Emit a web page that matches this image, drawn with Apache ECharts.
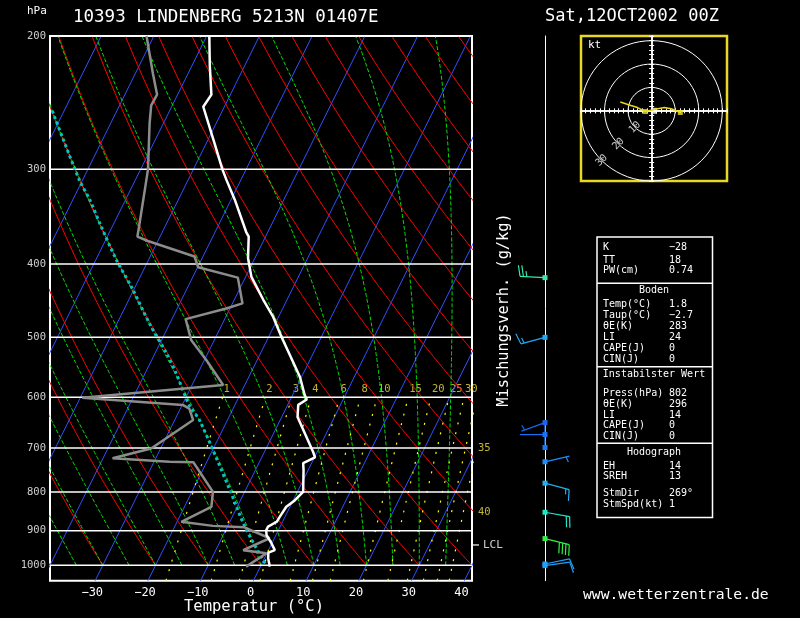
<!DOCTYPE html>
<html>
<head>
<meta charset="utf-8">
<title>Skew-T 10393 Lindenberg</title>
<script src="https://cdn.jsdelivr.net/npm/echarts/dist/echarts.min.js"></script>
<style>
html, body { margin: 0; padding: 0; background: #000; }
#main { width: 800px; height: 618px; }
</style>
</head>
<body>
<div id="main"></div>
<script>
// Skew-T log-P, Lindenberg 12.10.2002 00Z

var FONT = '"DejaVu Sans Mono", monospace';
var P_TOP = 200, P_BOT = 1047.9;
var SKEW = 30.88;          // degC of shift per ln-unit of pressure
var X_MIN = -40, X_MAX = 40;

// grid of the diagram
var isobars = [1000, 900, 800, 700, 600, 500, 400, 300, 200];
var isotherms = [-90, -80, -70, -60, -50, -40, -30, -20, -10, 0, 10, 20, 30, 40];
var dryAdiabats = [-40, -30, -20, -10, 0, 10, 20, 30, 40, 50, 60, 70, 80, 90, 100, 110, 120, 130, 140];
var moistAdiabats = [-35, -30, -25, -20, -15, -10, -5, 0, 5, 10, 15, 20, 25, 30, 35];
var mixRatios = [1, 2, 3, 4, 6, 8, 10, 15, 20, 25, 30, 35, 40];
var mixSideRatios = [35, 40];      // labelled on the right edge
var mixSideP = [700, 850];

// sounding
var tempP = [1004, 979, 962, 955, 935, 912, 899, 889, 876, 863, 837, 821, 800, 748, 733, 730, 720, 708,
             637, 614, 604, 596, 564, 539, 499, 470, 446, 416, 393, 368, 363, 329, 310, 300, 274, 248, 239, 219, 200];
var tempT = [1.8, 0.7, 0.2, 1.2, -0.1, -1.8, -2.3, -2.3, -1.1, -1.0, -0.7, 0.3, 1.1, -0.9, -1.6, -1.4, 0.1, -0.8,
             -7.0, -8.0, -6.9, -7.7, -10.3, -13.0, -17.6, -21.0, -24.5, -28.9, -31.3, -33.2, -34.1, -39.3, -42.7, -44.5, -49.0, -54.0, -53.6, -56.6, -59.5];
var dewP = [1004, 964, 955, 921, 891, 887, 876, 837, 800, 731, 730, 722, 701, 643, 621, 614, 601, 578,
            536, 504, 473, 458, 451, 417, 404, 391, 373, 368, 354, 310, 300, 261, 247, 239, 224, 200];
var dewT = [-2.7, -0.1, -4.8, -0.9, -6.7, -12.8, -19.2, -14.9, -16.0, -22.5, -27.1, -38.2, -31.8, -26.5, -28.3, -29.9, -49.6, -24.1,
            -29.6, -34.4, -37.4, -30.7, -28.1, -31.4, -39.9, -41.6, -51.9, -54.3, -55.1, -57.9, -58.6, -62.6, -64.0, -63.9, -66.7, -71.4];
var parcelP = [994, 984, 889, 795, 643, 617, 558, 525, 479, 433, 395, 357, 329, 310, 249];
var parcelT = [0.6, -0.1, -6.7, -13.0, -25.3, -28.4, -34.1, -37.8, -43.9, -50.1, -56.1, -62.1, -66.8, -70.6, -82.7];
var lclP = 940;

// winds
var windP   = [1001, 996, 922, 851, 779, 730, 699, 672, 648, 500, 417];
var windDir = [82, 78, 104, 100, 105, 77, 360, 270, 250, 255, 273];
var windSpd = [10, 10, 40, 20, 15, 5, 2, 2, 5, 15, 25];
var barbColors = ['#20a0f8', '#20a0f8', '#30f040', '#20e6c8', '#20b0f0', '#1e8cf8',
                  '#1a78f8', '#1a70f8', '#1a64f0', '#20a8f8', '#38e6a8'];

// hodograph (kt)
var hodoRings = [10, 20, 30];
var hodoU = [-13.3, -8.8, -6.0, -2.7, 2.6, 5.4, 8.3, 12.2];
var hodoV = [3.8, 2.3, 1.4, -0.3, 0.9, 1.4, 0.9, -0.7];
var hodoMarks = [3, 7];
var stormDir = 269, stormSpd = 1;

// table
var tableTop = [['K', '\u221228'], ['TT', '18'], ['PW(cm)', '0.74']];
var tableSfc = [['Temp(\u00b0C)', '1.8'], ['Taup(\u00b0C)', '\u22122.7'], ['\u03b8E(K)', '283'], ['LI', '24'], ['CAPE(J)', '0'], ['CIN(J)', '0']];
var tableUns = [['Press(hPa)', '802'], ['\u03b8E(K)', '296'], ['LI', '14'], ['CAPE(J)', '0'], ['CIN(J)', '0']];
var tableHodo = [['EH', '14'], ['SREH', '13'], ['StmDir', '269\u00b0'], ['StmSpd(kt)', '1']];

function skewX(t, p) { return t + SKEW * Math.log(1000 / p); }

function tempFromMix(w, p) {
  var e = w * p / (622 + w);
  var l = Math.log(e / 6.112);
  return 243.5 * l / (17.67 - l);
}

function moistSlope(tK, p) {
  var tc = tK - 273.15;
  var es = 6.112 * Math.exp(17.67 * tc / (tc + 243.5));
  var rs = 0.622 * es / (p - es);
  return (287.04 * tK + 2.501e6 * rs) / (1005.7 + 2.501e6 * 2.501e6 * rs * 0.622 / (287.04 * tK * tK)) / p;
}

function moistLine(tw) {
  var tK = tw + 273.15, pts = [], dp = -5;
  for (var p = 1000; p >= 200; p += dp) {
    pts.push([skewX(tK - 273.15, p), p]);
    var k1 = moistSlope(tK, p);
    var k2 = moistSlope(tK + k1 * dp / 2, p + dp / 2);
    var k3 = moistSlope(tK + k2 * dp / 2, p + dp / 2);
    var k4 = moistSlope(tK + k3 * dp, p + dp);
    tK += dp * (k1 + 2 * k2 + 2 * k3 + k4) / 6;
  }
  return pts;
}

function zip(ps, ts) {
  return ps.map(function (p, i) { return [skewX(ts[i], p), p]; });
}

var series = [];

function bgLine(points, color, width, type) {
  series.push({
    type: 'line', xAxisIndex: 0, yAxisIndex: 0, data: points,
    symbol: 'none', silent: true, animation: false,
    lineStyle: { color: color, width: width, type: type }
  });
}

isotherms.forEach(function (t) {
  bgLine([[skewX(t, P_BOT), P_BOT], [skewX(t, P_TOP), P_TOP]], '#3050ff', 1, 'solid');
});

dryAdiabats.forEach(function (th) {
  var pts = [];
  for (var p = 1000; p >= 200; p -= 10) {
    var t = (th + 273.15) * Math.pow(p / 1000, 0.2857) - 273.15;
    pts.push([skewX(t, p), p]);
  }
  bgLine(pts, '#ff0000', 1, 'solid');
});

moistAdiabats.forEach(function (tw) {
  bgLine(moistLine(tw), '#00e000', 1, [4, 2]);
});

mixRatios.forEach(function (w) {
  var pts = [[skewX(tempFromMix(w, P_BOT), P_BOT), P_BOT]];
  for (var p = 1040; p >= 600; p -= 20) pts.push([skewX(tempFromMix(w, p), p), p]);
  bgLine(pts, '#ffff00', 1.2, [2, 8]);
});

// labels of the mixing ratio lines
var mixTopLabels = mixRatios.filter(function (w) { return mixSideRatios.indexOf(w) < 0; })
  .map(function (w) { return [skewX(tempFromMix(w, 600), 600), 600, w]; });
var mixSideLabels = mixSideRatios.map(function (w, i) { return [X_MAX, mixSideP[i], w]; });

series.push({
  type: 'scatter', xAxisIndex: 0, yAxisIndex: 0, data: mixTopLabels, symbolSize: 0, silent: true, clip: false,
  label: { show: true, position: [1, -14], color: '#f0e040', fontFamily: FONT, fontSize: 10.5,
           formatter: function (d) { return d.value[2]; } }
});
series.push({
  type: 'scatter', xAxisIndex: 0, yAxisIndex: 0, data: mixSideLabels, symbolSize: 0, silent: true, clip: false,
  label: { show: true, position: 'right', distance: 6, color: '#f0e040', fontFamily: FONT, fontSize: 10.5,
           formatter: function (d) { return d.value[2]; } }
});

// isobars
isobars.forEach(function (p) {
  bgLine([[X_MIN, p], [X_MAX, p]], '#ffffff', 1.5, 'solid');
});
series.push({
  type: 'scatter', xAxisIndex: 0, yAxisIndex: 0, symbolSize: 0, silent: true, clip: false,
  data: isobars.map(function (p) { return [X_MIN, p]; }),
  label: { show: true, position: 'left', distance: 4, color: '#fff', fontFamily: FONT, fontSize: 10.5,
           formatter: function (d) { return d.value[1]; } }
});

// parcel, dew point, temperature
series.push({
  type: 'line', xAxisIndex: 0, yAxisIndex: 0, data: zip(parcelP, parcelT), symbol: 'none', smooth: 0.3,
  lineStyle: { color: '#00c4c4', width: 3, type: [3, 3] }
});
series.push({
  type: 'line', xAxisIndex: 0, yAxisIndex: 0, data: zip(dewP, dewT), symbol: 'none',
  lineStyle: { color: '#8c8c8c', width: 2.5 }
});
series.push({
  type: 'line', xAxisIndex: 0, yAxisIndex: 0, data: zip(tempP, tempT), symbol: 'none',
  lineStyle: { color: '#ffffff', width: 2.5 }
});

// LCL mark
series.push({
  type: 'scatter', xAxisIndex: 0, yAxisIndex: 0, data: [[X_MAX, lclP]], clip: false, silent: true,
  symbol: 'rect', symbolSize: [6, 1.5], symbolOffset: [4, 0], itemStyle: { color: '#fff' },
  label: { show: true, position: 'right', distance: 4, color: '#fff', fontFamily: FONT, fontSize: 11, formatter: 'LCL' }
});

// wind barbs
function renderBarb(params, api) {
  var p = api.value(1), dir = api.value(2), spd = api.value(3);
  var color = barbColors[params.dataIndex];
  var c = api.coord([api.value(0), p]);
  var rad = dir * Math.PI / 180;
  var dx = Math.sin(rad), dy = -Math.cos(rad);
  var rx = -dy, ry = dx;
  var L = 25, step = 3.4;
  var kids = [{ type: 'rect', shape: { x: c[0] - 2.5, y: c[1] - 2.5, width: 5, height: 5 }, style: { fill: color } }];
  if (spd >= 2) {
    kids.push({ type: 'line', shape: { x1: c[0], y1: c[1], x2: c[0] + dx * L, y2: c[1] + dy * L },
                style: { stroke: color, lineWidth: 1.2 } });
    var full = Math.floor(spd / 10), half = (spd % 10) >= 5 ? 1 : 0;
    var pos = L;
    if (full === 0 && half) pos = L - step;
    function feather(len) {
      var bx = c[0] + dx * pos, by = c[1] + dy * pos;
      kids.push({ type: 'line', shape: { x1: bx, y1: by, x2: bx + rx * len + dx * len * 0.2, y2: by + ry * len + dy * len * 0.2 },
                  style: { stroke: color, lineWidth: 1.2 } });
      pos -= step;
    }
    for (var i = 0; i < full; i++) feather(11);
    if (half) feather(5.5);
  }
  return { type: 'group', children: kids };
}

series.push({
  type: 'custom', xAxisIndex: 1, yAxisIndex: 1, silent: true,
  data: windP.map(function (p, i) { return [0, p, windDir[i], windSpd[i]]; }),
  encode: { x: 0, y: 1 },
  renderItem: renderBarb
});

// hodograph
hodoRings.forEach(function (r) {
  var pts = [];
  for (var a = 0; a <= 360; a += 5) {
    pts.push([r * Math.cos(a * Math.PI / 180), r * Math.sin(a * Math.PI / 180)]);
  }
  series.push({ type: 'line', xAxisIndex: 2, yAxisIndex: 2, data: pts, symbol: 'none', silent: true,
                lineStyle: { color: '#fff', width: 1 } });
});
series.push({
  type: 'scatter', xAxisIndex: 2, yAxisIndex: 2, symbolSize: 0, silent: true,
  data: hodoRings.map(function (r) { return [-r * Math.SQRT1_2, -r * Math.SQRT1_2, r]; }),
  label: { show: true, position: 'inside', rotate: 45, color: '#fff', fontFamily: FONT, fontSize: 10,
           formatter: function (d) { return d.value[2]; } }
});
var hodoPts = hodoU.map(function (u, i) { return [u, hodoV[i]]; });
series.push({
  type: 'line', xAxisIndex: 2, yAxisIndex: 2, data: hodoPts, symbol: 'none',
  lineStyle: { color: '#e8d820', width: 1.5 }
});
series.push({
  type: 'scatter', xAxisIndex: 2, yAxisIndex: 2, symbol: 'rect', symbolSize: 5,
  data: hodoMarks.map(function (i) { return hodoPts[i]; }), itemStyle: { color: '#e8d820' }
});
series.push({
  type: 'scatter', xAxisIndex: 2, yAxisIndex: 2, symbol: 'rect', symbolSize: 6,
  data: [[-stormSpd * Math.sin(stormDir * Math.PI / 180), -stormSpd * Math.cos(stormDir * Math.PI / 180)]],
  itemStyle: { color: '#fff' }
});

// texts
function txt(x, y, s, size, align, extra) {
  var el = {
    type: 'text', x: x, y: y, silent: true,
    style: { text: s, fill: '#fff', font: size + 'px ' + FONT,
             textAlign: align || 'left', align: align || 'left',
             textVerticalAlign: 'middle', verticalAlign: 'middle' }
  };
  if (extra) for (var k in extra) el[k] = extra[k];
  return el;
}

var graphics = [
  txt(73, 17, '10393 LINDENBERG 5213N 01407E', 17.5),
  txt(545, 17, 'Sat,12OCT2002 00Z', 17),
  txt(27, 11, 'hPa', 11),
  txt(254, 607, 'Temperatur (\u00b0C)', 15.5, 'center'),
  txt(583, 595, 'www.wetterzentrale.de', 14.7),
  txt(504, 310, 'Mischungsverh. (g/kg)', 15.3, 'center', { rotation: Math.PI / 2 }),
  txt(588, 45, 'kt', 11),
  { type: 'rect', shape: { x: 597, y: 237, width: 115.5, height: 280.5 }, silent: true,
    style: { fill: 'none', stroke: '#fff', lineWidth: 1.5 } }
];
[283.3, 366.7, 443.3].forEach(function (y) {
  graphics.push({ type: 'line', shape: { x1: 597, y1: y, x2: 712.5, y2: y }, silent: true,
                  style: { stroke: '#fff', lineWidth: 1.5 } });
});
function rows(list, ys) {
  list.forEach(function (r, i) {
    graphics.push(txt(603, ys[i], r[0], 10));
    graphics.push(txt(669, ys[i], r[1], 10));
  });
}
rows(tableTop, [247.5, 260.5, 270.5]);
graphics.push(txt(654, 290.5, 'Boden', 10, 'center'));
rows(tableSfc, [304, 315, 326, 337, 348.5, 359.5]);
graphics.push(txt(654, 374.5, 'Instabilster Wert', 10, 'center'));
rows(tableUns, [393.5, 404, 415, 425.5, 436]);
graphics.push(txt(654, 452, 'Hodograph', 10, 'center'));
rows(tableHodo, [466, 476, 493.5, 504]);

var hideAll = { axisLine: { show: false }, axisTick: { show: false }, axisLabel: { show: false }, splitLine: { show: false } };
function merge(a, b) { var o = {}, k; for (k in a) o[k] = a[k]; for (k in b) o[k] = b[k]; return o; }

var hodoAxis = {
  type: 'value', min: -30, max: 32, interval: 2, gridIndex: 2,
  axisLine: { onZero: true, lineStyle: { color: '#fff', width: 1.5 } },
  axisTick: { show: true, length: 2.5, lineStyle: { color: '#fff', width: 1 } },
  axisLabel: { show: false }, splitLine: { show: false }
};

var myChart = echarts.init(document.getElementById('main'));
var option = {
  backgroundColor: '#000',
  animation: false,
  grid: [
    { left: 50, top: 36, width: 422, height: 544.7, show: true, borderColor: '#fff', borderWidth: 2, backgroundColor: 'transparent' },
    { left: 545, top: 36, width: 20, height: 544.7 },
    { left: 581, top: 36, width: 146, height: 145, show: true, borderColor: '#e8d820', borderWidth: 2.5, backgroundColor: 'transparent' }
  ],
  xAxis: [
    {
      gridIndex: 0, type: 'value', min: X_MIN, max: X_MAX, interval: 10,
      axisLine: { show: false }, axisTick: { show: false }, splitLine: { show: false },
      axisLabel: {
        color: '#fff', fontFamily: FONT, fontSize: 12, margin: 6, showMinLabel: false,
        padding: [0, 21, 0, 0],
        formatter: function (v) { return String(v).replace('-', '\u2212'); }
      }
    },
    merge(hideAll, { gridIndex: 1, type: 'value', min: 0, max: 1 }),
    merge(hodoAxis, { position: 'bottom' }),
    merge(hodoAxis, { position: 'top' })
  ],
  yAxis: [
    merge(hideAll, { gridIndex: 0, type: 'log', min: P_TOP, max: P_BOT, inverse: true }),
    {
      gridIndex: 1, type: 'log', min: P_TOP, max: P_BOT, inverse: true,
      axisLine: { show: true, onZero: false, lineStyle: { color: '#fff', width: 1 } },
      axisTick: { show: false }, axisLabel: { show: false }, splitLine: { show: false }
    },
    merge(hodoAxis, { position: 'left' }),
    merge(hodoAxis, { position: 'right' })
  ],
  graphic: graphics,
  series: series
};
myChart.setOption(option);
</script>
</body>
</html>
